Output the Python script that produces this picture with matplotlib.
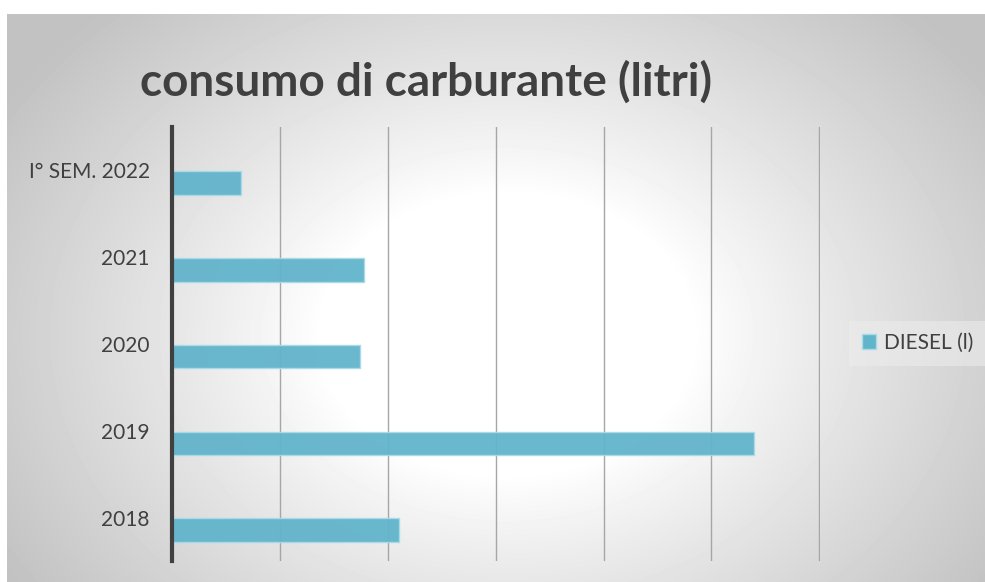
import numpy as np
import matplotlib
matplotlib.use("Agg")
import matplotlib.pyplot as plt
from matplotlib.patches import Patch

# data (litri, scala stimata: una griglia = 10000)
categorie = ["2018", "2019", "2020", "2021", "I° SEM. 2022"]
diesel = [21000, 53900, 17400, 17800, 6400]
serie = "DIESEL (l)"

bar_color = "#62b4cb"
text_color = "#404040"

plt.rcParams['font.family'] = ['Lato', 'DejaVu Sans']

fig = plt.figure(figsize=(9.85, 5.82), dpi=100)

# radial gradient background like the Excel chart area
bg = fig.add_axes([7 / 985, 0, 1 - 7 / 985, 1 - 14 / 582], zorder=0)
h, w = 568, 978
yy, xx = np.mgrid[0:h, 0:w]
r = np.sqrt(((xx - 500) / 620.0) ** 2 + ((yy - 320) / 470.0) ** 2)
val = 1.0 - 0.24 * np.clip((r - 0.3) / 0.65, 0, 1) ** 0.9
bg.imshow(val, cmap="gray", vmin=0, vmax=1, aspect="auto", interpolation="bilinear")
bg.axis("off")

ax = fig.add_axes([172 / 985, 1 - 561 / 582, (820 - 172) / 985, (561 - 127) / 582], zorder=1)
ax.patch.set_alpha(0)

pos = np.arange(len(categorie))
ax.barh(pos - 0.145, diesel, height=0.27, color=bar_color, alpha=0.95,
        edgecolor="#a8dbe8", linewidth=1, zorder=3)

ax.set_xlim(0, 60060)
ax.set_ylim(-0.5, len(categorie) - 0.5)
ax.set_xticks(np.arange(0, 60001, 10000))
ax.set_xticklabels([])
ax.tick_params(axis="x", length=0)
ax.grid(axis="x", color="#a6a6a6", linewidth=1, zorder=1)
ax.set_yticks(pos)
ax.set_yticklabels(categorie, fontsize=15, color=text_color)
ax.tick_params(axis="y", length=0, pad=16)

for s in ["top", "right", "bottom"]:
    ax.spines[s].set_visible(False)
ax.spines["left"].set_color("#404040")
ax.spines["left"].set_linewidth(3)
ax.spines["left"].set_zorder(4)

fig.text(0.433, 1 - 82 / 582, "consumo di carburante (litri)", ha="center", va="center",
         fontsize=33, fontweight="bold", color=text_color)

leg = fig.legend(handles=[Patch(facecolor=bar_color, edgecolor="#a8dbe8", label=serie)],
                 loc="center left", bbox_to_anchor=(849 / 985, 1 - 343 / 582),
                 frameon=True, fontsize=15, handlelength=0.7, handleheight=0.7,
                 handletextpad=0.4, borderpad=0.6, borderaxespad=0)
leg.get_frame().set_facecolor("#ececec")
leg.get_frame().set_edgecolor("none")
leg.get_frame().set_alpha(0.6)
leg.get_frame().set_boxstyle("square", pad=0)
for t in leg.get_texts():
    t.set_color(text_color)

fig.savefig("out.png", dpi=100)
